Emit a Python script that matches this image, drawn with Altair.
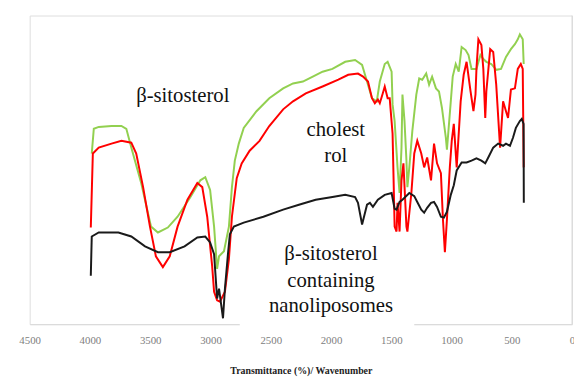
import altair as alt
import pandas as pd

# ---- data (wavenumber, transmittance %) ----
green_wn = [3985, 3968, 3927, 3821, 3739, 3698, 3657, 3575, 3493, 3436, 3354, 3273, 3166, 3084, 3043,
            3003, 2970, 2945, 2929, 2888, 2847, 2822, 2798, 2765, 2724, 2618, 2512, 2397, 2315, 2233,
            2151, 2070, 1988, 1882, 1800, 1742, 1701, 1660, 1620, 1595, 1554, 1530, 1497, 1489, 1472,
            1448, 1431, 1415, 1407, 1390, 1374, 1366, 1350, 1325, 1292, 1268, 1243, 1210, 1186, 1161,
            1129, 1104, 1079, 1047, 1038, 1006, 990, 965, 940, 916, 883, 859, 834, 793, 760, 736, 711,
            670, 629, 589, 548, 507, 474, 450, 433, 409, 401]
green_t = [55.3, 63.3, 63.9, 64.2, 64.2, 63.3, 57.2, 45.7, 31.6, 29.7, 31.3, 34.8, 41.2, 46.6, 47.6,
           43.5, 31.6, 17.9, 22.0, 23.6, 31.6, 44.4, 53.0, 58.5, 63.6, 69.0, 73.2, 76.4, 78.0, 78.6,
           80.2, 81.8, 82.7, 85.0, 85.6, 84.0, 78.6, 73.2, 72.2, 78.6, 84.3, 85.0, 81.8, 71.2, 65.8,
           50.8, 42.5, 57.2, 74.4, 65.8, 53.0, 44.4, 50.8, 62.6, 74.4, 79.6, 79.2, 81.2, 77.6, 80.2,
           76.4, 75.4, 70.0, 60.4, 56.5, 72.2, 80.2, 84.3, 81.8, 89.8, 88.8, 87.2, 82.7, 82.7, 87.2,
           85.9, 85.0, 84.3, 82.4, 82.7, 86.6, 89.1, 90.7, 92.3, 93.9, 92.3, 84.3]

red_wn = [3993, 3976, 3927, 3821, 3739, 3657, 3616, 3559, 3502, 3453, 3395, 3338, 3273, 3191, 3109,
          3068, 3027, 2986, 2970, 2945, 2921, 2880, 2847, 2822, 2782, 2741, 2675, 2593, 2512, 2397,
          2315, 2209, 2070, 1939, 1857, 1776, 1734, 1693, 1660, 1636, 1611, 1595, 1570, 1554, 1530,
          1513, 1489, 1472, 1456, 1448, 1431, 1415, 1399, 1374, 1366, 1333, 1309, 1284, 1251, 1227,
          1202, 1170, 1145, 1120, 1088, 1071, 1055, 1038, 1014, 998, 981, 957, 924, 899, 875, 842,
          818, 801, 793, 777, 752, 736, 720, 711, 679, 654, 629, 597, 572, 548, 531, 507, 474, 450,
          425, 409, 401]
red_t = [31.3, 55.3, 57.2, 58.5, 59.4, 58.8, 55.3, 44.4, 31.6, 22.0, 18.5, 22.0, 31.6, 40.3, 45.7,
         44.4, 34.8, 18.8, 10.5, 7.7, 7.3, 10.5, 21.1, 34.8, 47.3, 52.1, 56.2, 59.4, 64.2, 69.6,
         72.2, 74.8, 77.0, 79.2, 80.8, 81.2, 80.2, 78.6, 73.2, 71.6, 72.8, 71.6, 74.8, 77.0, 73.2,
         73.2, 61.7, 31.6, 30.0, 39.3, 30.0, 46.6, 52.1, 31.6, 30.0, 42.5, 55.3, 59.4, 55.3, 50.8,
         54.0, 46.6, 58.5, 52.1, 48.9, 33.9, 23.3, 33.9, 50.8, 59.4, 64.9, 50.8, 72.2, 80.8, 85.0, 75.4,
         69.0, 74.4, 82.7, 92.3, 90.4, 82.7, 66.8, 75.4, 89.1, 88.2, 77.6, 57.2, 72.2, 69.0, 66.8, 76.0, 76.4, 82.7,
         84.3, 82.7, 50.8]

black_wn = [3993, 3985, 3927, 3764, 3657, 3543, 3436, 3338, 3215, 3109, 3043, 3003, 2970, 2945, 2929,
            2896, 2880, 2855, 2839, 2806, 2724, 2561, 2397, 2266, 2127, 1988, 1882, 1800, 1776, 1742,
            1726, 1701, 1677, 1652, 1611, 1554, 1497, 1472, 1456, 1431, 1407, 1350, 1309, 1284, 1251,
            1227, 1202, 1170, 1145, 1120, 1088, 1063, 1038, 1006, 981, 957, 916, 875, 834, 793, 752,
            720, 695, 654, 613, 572, 548, 515, 490, 466, 433, 417, 402, 400]
black_t = [15.7, 28.4, 29.7, 29.7, 28.4, 25.2, 23.3, 23.3, 25.2, 28.1, 28.4, 26.5, 22.7, 8.3, 11.5,
           1.9, 11.5, 22.7, 29.1, 31.6, 32.9, 34.8, 37.1, 38.7, 40.3, 41.2, 41.9, 41.2, 39.3, 32.3,
           34.8, 38.7, 39.3, 38.0, 40.3, 41.9, 42.5, 37.4, 37.1, 39.6, 40.3, 42.5, 41.5, 39.6, 37.1,
           36.1, 37.7, 39.3, 39.6, 38.0, 34.8, 34.5, 36.4, 41.9, 45.0, 49.8, 52.4, 52.4, 53.0, 53.7, 53.0,
           52.1, 54.0, 57.2, 58.5, 57.8, 58.5, 57.8, 60.4, 63.6, 65.8, 66.5, 64.9, 39.3]

tick_values = [4500, 4000, 3500, 3000, 2500, 2000, 1500, 1000, 500, 0]

label_text = ["β-sitosterol", "cholest", "rol", "β-sitosterol", "containing", "nanoliposomes"]
label_wn = [3230, 1960, 1960, 2000, 2000, 2000]
label_t = [73.8, 62.9, 54.6, 22.7, 14.1, 5.8]

SERIF = "'Liberation Serif', 'DejaVu Serif', serif"


def frame(wn, t):
    return pd.DataFrame({"wn": wn, "t": t, "idx": list(range(len(wn)))})


x_scale = alt.Scale(domain=[0, 4500], reverse=True, nice=False, zero=False)
y_scale = alt.Scale(domain=[0, 100], nice=False)

x_axis = alt.Axis(
    values=tick_values, format="d", ticks=False, grid=False,
    labelFont=SERIF, labelFontSize=11, labelColor="#808080", labelPadding=11,
    labelFlush=False, labelOverlap=False,
    domainColor="#d9d9d9", domainWidth=1,
    title="Transmittance (%)/ Wavenumber", titleFont=SERIF, titleFontSize=10,
    titleFontWeight="bold", titleColor="#222222", titlePadding=20,
)


def line(wn, t, color):
    return alt.Chart(frame(wn, t)).mark_line(color=color, strokeWidth=2).encode(
        x=alt.X("wn:Q", scale=x_scale, axis=x_axis),
        y=alt.Y("t:Q", scale=y_scale, axis=None),
        order="idx:Q",
    )


# right frame edge at wavenumber 0
edge = alt.Chart(pd.DataFrame({"wn": [0]})).mark_rule(color="#d9d9d9", strokeWidth=1).encode(
    x=alt.X("wn:Q", scale=x_scale, axis=x_axis)
)

# white text box behind the lower label
box = alt.Chart(pd.DataFrame({"x1": [2757], "x2": [1309], "y1": [-1.5], "y2": [27.0]})).mark_rect(
    color="white"
).encode(
    x=alt.X("x1:Q", scale=x_scale, axis=x_axis), x2="x2:Q",
    y=alt.Y("y1:Q", scale=y_scale, axis=None), y2="y2:Q",
)

labels = alt.Chart(pd.DataFrame({"text": label_text, "wn": label_wn, "t": label_t})).mark_text(
    font=SERIF, fontSize=21, color="#111111", align="center", baseline="middle"
).encode(
    x=alt.X("wn:Q", scale=x_scale, axis=x_axis),
    y=alt.Y("t:Q", scale=y_scale, axis=None),
    text="text:N",
)

chart = alt.layer(
    edge,
    line(green_wn, green_t, "#92d050"),
    line(red_wn, red_t, "#ff0000"),
    line(black_wn, black_t, "#1a1a1a"),
    box,
    labels,
).properties(
    width=550, height=313,
    autosize=alt.AutoSizeParams(type="none"),
    padding={"left": 22, "top": 5, "right": 2, "bottom": 53},
).configure_view(stroke=None).configure(background="white")

chart.save("out.html", embed_options={"renderer": "svg", "actions": False})
